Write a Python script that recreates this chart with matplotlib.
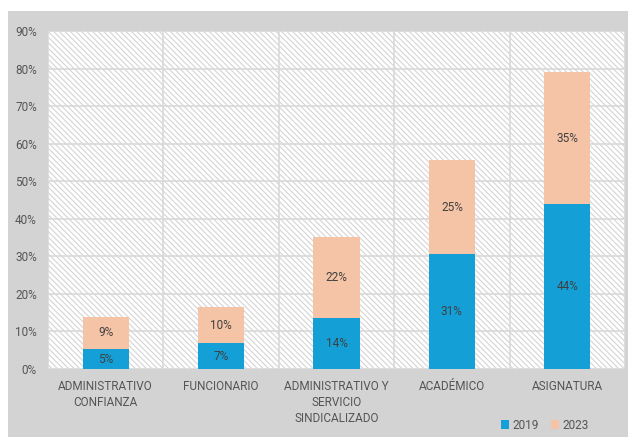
import numpy as np
import matplotlib.pyplot as plt
from matplotlib.patches import Rectangle

# datos (porcentajes)
categorias = ["ADMINISTRATIVO\nCONFIANZA", "FUNCIONARIO",
              "ADMINISTRATIVO Y\nSERVICIO\nSINDICALIZADO", "ACADÉMICO", "ASIGNATURA"]
v2019 = [5.3, 6.9, 13.6, 30.6, 43.9]
v2023 = [8.6, 9.6, 21.6, 25.0, 35.2]
etiq2019 = ["5%", "7%", "14%", "31%", "44%"]
etiq2023 = ["9%", "10%", "22%", "25%", "35%"]
yticks = [0, 10, 20, 30, 40, 50, 60, 70, 80, 90]

plt.rcParams['font.family'] = ['Roboto', 'DejaVu Sans']
plt.rcParams['hatch.linewidth'] = 0.8

azul = '#149fd6'
durazno = '#f5c4a6'
gris = '#d3d3d3'
texto = '#555555'

fig = plt.figure(figsize=(6.28, 4.37), dpi=100)
fig.patch.set_facecolor('white')
# fondo gris del area del grafico
fondo = Rectangle((8/628, 0), 1, (437-11)/437, transform=fig.transFigure,
                  facecolor=gris, edgecolor='none', zorder=-10)
fig.add_artist(fondo)

ax = fig.add_axes([48/628, (437-369)/437, (625-48)/628, (369-31)/437])
ax.set_facecolor('white')
# rayado diagonal del fondo
ax.add_patch(Rectangle((0, 0), 1, 1, transform=ax.transAxes, facecolor='white',
                       edgecolor='#d4d4d4', linewidth=0,
                       hatch='\\\\\\\\\\\\', zorder=0))

x = np.arange(len(categorias))
ax.bar(x, v2019, width=0.4, color=azul, label='2019', zorder=3)
ax.bar(x, v2023, width=0.4, bottom=v2019, color=durazno, label='2023', zorder=3)

for i in range(len(x)):
    ax.text(x[i], v2019[i] / 2, etiq2019[i], ha='center', va='center',
            fontsize=8.5, color='#404040', zorder=4)
    ax.text(x[i], v2019[i] + v2023[i] / 2, etiq2023[i], ha='center', va='center',
            fontsize=8.5, color='#404040', zorder=4)

ax.set_xlim(-0.5, len(x) - 0.5)
ax.set_ylim(0, 90)
ax.set_yticks(yticks)
ax.set_yticklabels([f"{t}%" for t in yticks])
ax.set_xticks(x)
ax.set_xticklabels(categorias, linespacing=1.3)
ax.set_xticks(np.arange(len(x) + 1) - 0.5, minor=True)
ax.tick_params(axis='both', which='both', length=0, labelsize=8.5, labelcolor=texto)
ax.tick_params(axis='x', pad=8)
ax.tick_params(axis='y', pad=8)
ax.grid(axis='y', color='#d9d9d9', linewidth=1.2, zorder=1)
ax.grid(axis='x', which='minor', color='#d9d9d9', linewidth=1.2, zorder=1)
ax.set_axisbelow(False)
for s in ax.spines.values():
    s.set_visible(False)

fig.legend(loc='lower right', bbox_to_anchor=(0.955, -0.012), ncol=2, frameon=False,
           fontsize=8.5, handlelength=0.7, handleheight=0.7, handletextpad=0.3,
           columnspacing=1.0, labelcolor=texto)

fig.savefig('out.png', dpi=100)
